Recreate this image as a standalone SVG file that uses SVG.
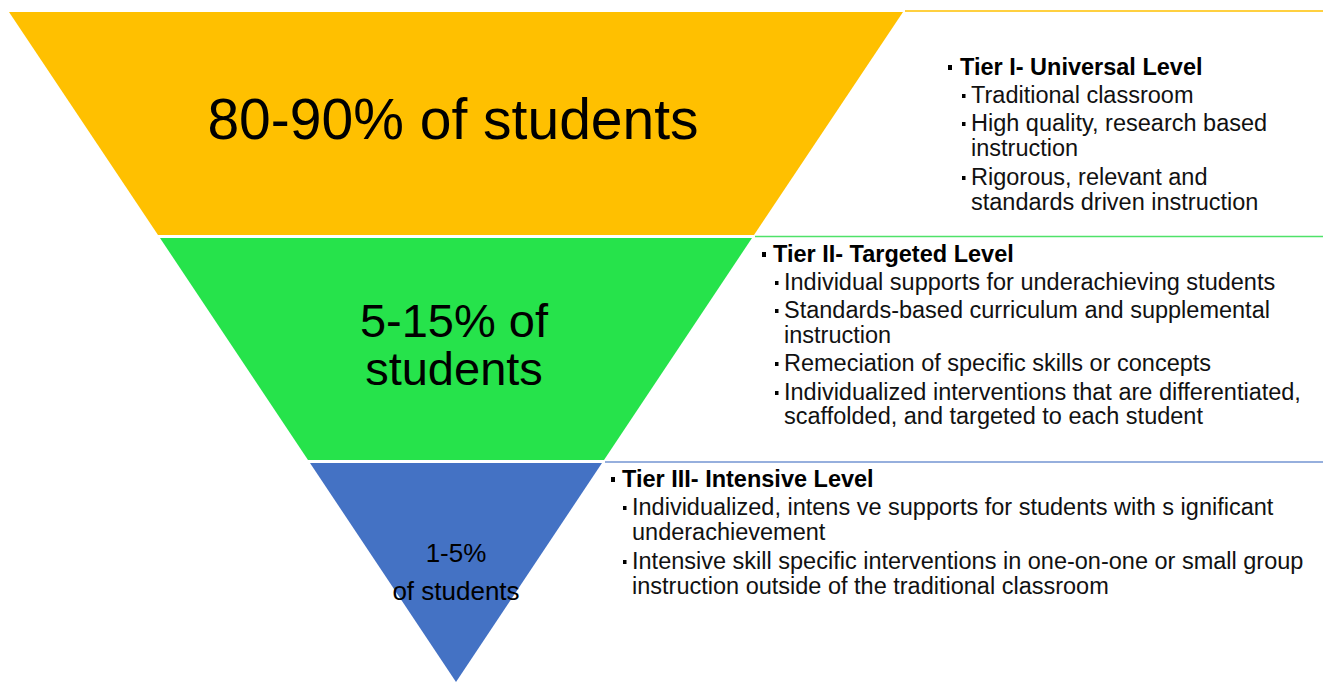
<svg xmlns="http://www.w3.org/2000/svg" width="1323" height="682" viewBox="0 0 1323 682">
<style>
.big{font-family:"Liberation Sans",Arial,sans-serif;fill:#000;text-anchor:middle}
.hd{font-family:"Liberation Sans",Arial,sans-serif;font-size:23.5px;font-weight:bold;fill:#000}
.it{font-family:"Liberation Sans",Arial,sans-serif;font-size:23.5px;fill:#111}
.b{fill:#000}
</style>
<rect width="1323" height="682" fill="#fff"/>
<g id="connectors">
<line x1="905" y1="11" x2="1323" y2="11" stroke="#FFC000" stroke-width="1.5"/>
<line x1="755" y1="236.5" x2="1323" y2="236.5" stroke="#4FE26A" stroke-width="1.5"/>
<line x1="605" y1="462" x2="1323" y2="462" stroke="#7394D2" stroke-width="1.5"/>
</g>
<g id="tier1">
<polygon points="9,12 903,12 754,235 158,235" fill="#FFC000"/>
<text class="big" x="453" y="139" font-size="57">80-90% of students</text>
</g>
<g id="tier2">
<polygon points="160,238 752,238 604,460 308,460" fill="#26E34B"/>
<text class="big" x="454" y="337" font-size="47">5-15% of</text>
<text class="big" x="454" y="385" font-size="47">students</text>
</g>
<g id="tier3">
<polygon points="310,463 602,463 456,682" fill="#4472C4"/>
<text class="big" x="456" y="562" font-size="26" fill="#111">1-5%</text>
<text class="big" x="456" y="600" font-size="26" fill="#111">of students</text>
</g>
<g id="tier1-text">
<rect class="b" x="948" y="65" width="4" height="5"/>
<text class="hd" x="960" y="75">Tier I- Universal Level</text>
<rect class="b" x="962" y="94" width="3.5" height="4"/>
<text class="it" x="971" y="103">Traditional classroom</text>
<rect class="b" x="962" y="122" width="3.5" height="4"/>
<text class="it" x="971" y="131">High quality, research based</text>
<text class="it" x="971" y="156">instruction</text>
<rect class="b" x="962" y="176" width="3.5" height="4"/>
<text class="it" x="971" y="185">Rigorous, relevant and</text>
<text class="it" x="971" y="210">standards driven instruction</text>
</g>
<g id="tier2-text">
<rect class="b" x="762" y="252" width="4" height="5"/>
<text class="hd" x="773" y="262">Tier II- Targeted Level</text>
<rect class="b" x="775" y="281" width="3.5" height="4"/>
<text class="it" x="784" y="290">Individual supports for underachieving students</text>
<rect class="b" x="775" y="309" width="3.5" height="4"/>
<text class="it" x="784" y="318">Standards-based curriculum and supplemental</text>
<text class="it" x="784" y="343">instruction</text>
<rect class="b" x="775" y="362" width="3.5" height="4"/>
<text class="it" x="784" y="371">Remeciation of specific skills or concepts</text>
<rect class="b" x="775" y="391" width="3.5" height="4"/>
<text class="it" x="784" y="400">Individualized interventions that are differentiated,</text>
<text class="it" x="784" y="424">scaffolded, and targeted to each student</text>
</g>
<g id="tier3-text">
<rect class="b" x="611" y="477" width="4" height="5"/>
<text class="hd" x="622" y="487">Tier III- Intensive Level</text>
<rect class="b" x="623" y="506" width="3.5" height="4"/>
<text class="it" x="632" y="515">Individualized, intens ve supports for students with s ignificant</text>
<text class="it" x="632" y="540">underachievement</text>
<rect class="b" x="623" y="560" width="3.5" height="4"/>
<text class="it" x="632" y="569">Intensive skill specific interventions in one-on-one or small group</text>
<text class="it" x="632" y="594">instruction outside of the traditional classroom</text>
</g>
</svg>
